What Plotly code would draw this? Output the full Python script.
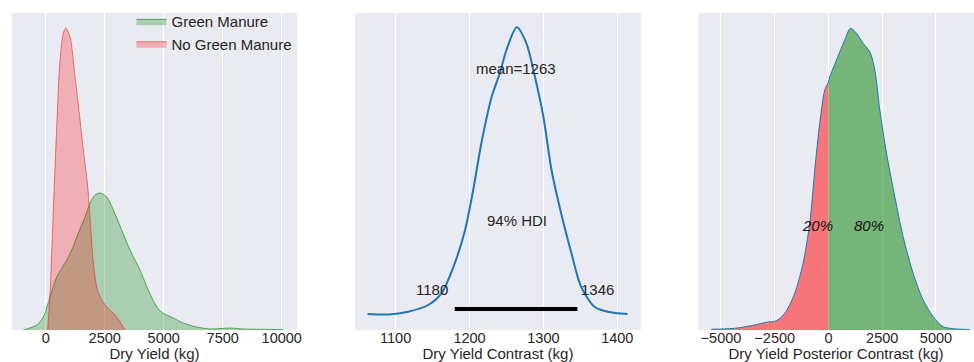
import plotly.graph_objects as go

# ---------- Panel 1: Dry yield KDEs ----------
green_x = [-949, -381, -102, 182, 466, 818, 1102, 1381, 1665, 1877, 2089, 2301, 2585,
           2864, 3220, 3572, 3996, 4419, 4843, 5406, 5830, 6398, 6961, 7808, 8360, 10054]
green_y = [0, 5, 13, 33, 53, 67, 80, 97, 113, 127, 135, 137, 133,
           120, 100, 80, 60, 36, 19, 12, 7, 3, 1, 2, 1, 0.5]
red_x = [85, 182, 322, 466, 606, 746, 847, 1030, 1242, 1453, 1593, 1763, 1877,
         2017, 2229, 2585, 2937, 3148, 3360]
red_y = [0, 37, 120, 203, 270, 297, 302, 293, 253, 210, 180, 147, 113,
         67, 37, 23, 15, 8, 0]
p1_ticks = [0, 2500, 5000, 7500, 10000]

# ---------- Panel 2: contrast posterior ----------
contrast_x = [1062, 1090, 1117, 1144, 1162, 1180, 1194, 1205, 1216, 1230, 1241, 1250,
              1264, 1277, 1288, 1300, 1311, 1324, 1338, 1351, 1369, 1387, 1414]
contrast_y = [1, 0.5, 3.3, 10, 21.7, 51.7, 85, 125, 171.7, 218.3, 241.7, 265,
              287.7, 271.7, 240, 198.3, 145, 101.7, 61.7, 28.3, 8.3, 3.3, 1]
contrast_mean = 1263
hdi_low, hdi_high = 1180, 1346
p2_ticks = [1100, 1200, 1300, 1400]

# ---------- Panel 3: posterior contrast ----------
post_x = [-5446, -4362, -3431, -2886, -2421, -2034, -1569, -1182, -870, -638, -405, -172,
          0, 61, 372, 759, 1024, 1303, 1611, 1923, 2155, 2388, 2700, 3086, 3473, 3938,
          4404, 4869, 5335, 5958, 6577]
post_y = [0.7, 1.7, 5, 7.7, 9.3, 16.7, 36.7, 66.7, 106.7, 160, 206.7, 240,
          248, 253, 270, 290, 301.7, 296.7, 286.7, 278.3, 260, 220, 176.7, 133.3, 93.3, 56.7,
          30, 13.3, 3.3, 1, 0.5]
pct_below, pct_above = "20%", "80%"
p3_ticks = [-5000, -2500, 0, 2500, 5000]

FONT = "Liberation Sans, Arial, sans-serif"
TXT = "#262626"
BG = "#EAEAF2"
BLUE = "#1f77b4"

fig = go.Figure()

# Panel 1
fig.add_trace(go.Scatter(x=green_x, y=green_y, mode="lines", fill="tozeroy",
                         line=dict(color="rgba(0,128,0,0.6)", width=1, shape="spline", smoothing=0.8),
                         fillcolor="rgba(0,128,0,0.27)", name="Green Manure",
                         xaxis="x", yaxis="y"))
fig.add_trace(go.Scatter(x=red_x, y=red_y, mode="lines", fill="tozeroy",
                         line=dict(color="rgba(230,40,40,0.6)", width=1, shape="spline", smoothing=0.8),
                         fillcolor="rgba(255,0,0,0.25)", name="No Green Manure",
                         xaxis="x", yaxis="y"))

# Panel 2
fig.add_trace(go.Scatter(x=contrast_x, y=contrast_y, mode="lines",
                         line=dict(color=BLUE, width=2, shape="spline", smoothing=0.8),
                         showlegend=False, xaxis="x2", yaxis="y2"))
fig.add_trace(go.Scatter(x=[hdi_low, hdi_high], y=[6, 6], mode="lines",
                         line=dict(color="black", width=4),
                         showlegend=False, xaxis="x2", yaxis="y2"))

# Panel 3
split = post_x.index(0)
fig.add_trace(go.Scatter(x=post_x[:split + 1], y=post_y[:split + 1], mode="lines", fill="tozeroy",
                         line=dict(width=0, shape="spline", smoothing=0.8),
                         fillcolor="rgba(255,0,0,0.5)", showlegend=False,
                         xaxis="x3", yaxis="y3"))
fig.add_trace(go.Scatter(x=post_x[split:], y=post_y[split:], mode="lines", fill="tozeroy",
                         line=dict(width=0, shape="spline", smoothing=0.8),
                         fillcolor="rgba(0,128,0,0.5)", showlegend=False,
                         xaxis="x3", yaxis="y3"))
fig.add_trace(go.Scatter(x=post_x, y=post_y, mode="lines",
                         line=dict(color=BLUE, width=1, shape="spline", smoothing=0.8),
                         showlegend=False, xaxis="x3", yaxis="y3"))

annots = [
    dict(x=contrast_mean, y=247, xref="x2", yref="y2", text=f"mean={contrast_mean}",
         showarrow=False, font=dict(size=15, color=TXT, family=FONT)),
    dict(x=1264, y=95, xref="x2", yref="y2", text="94% HDI",
         showarrow=False, font=dict(size=15, color=TXT, family=FONT)),
    dict(x=hdi_low - 6, y=26, xref="x2", yref="y2", text=str(hdi_low), xanchor="right",
         showarrow=False, font=dict(size=15, color=TXT, family=FONT)),
    dict(x=hdi_high + 2, y=26, xref="x2", yref="y2", text=str(hdi_high), xanchor="left",
         showarrow=False, font=dict(size=15, color=TXT, family=FONT)),
    dict(x=-510, y=105, xref="x3", yref="y3", text=f"<i>{pct_below}</i>",
         showarrow=False, font=dict(size=15, color="#111111", family=FONT)),
    dict(x=1876, y=105, xref="x3", yref="y3", text=f"<i>{pct_above}</i>",
         showarrow=False, font=dict(size=15, color="#111111", family=FONT)),
]

def xax(domain, rng, ticks, title):
    return dict(domain=domain, range=rng, tickvals=ticks,
                ticktext=[str(t).replace("-", "\u2212") for t in ticks],
                showgrid=True, gridcolor="white", gridwidth=1, zeroline=False,
                showline=False, ticks="", ticklabelstandoff=-3, automargin=False,
                tickfont=dict(size=14.5, color=TXT, family=FONT),
                title=dict(text=title, font=dict(size=15, color=TXT, family=FONT), standoff=0),
                fixedrange=True)

def yax(anchor, rng):
    return dict(anchor=anchor, range=rng, showgrid=False, zeroline=False, automargin=False,
                showticklabels=False, ticks="", showline=False, fixedrange=True)

fig.update_layout(
    width=974, height=362,
    margin=dict(l=0, r=0, t=13, b=32, autoexpand=False),
    paper_bgcolor="white", plot_bgcolor=BG,
    font=dict(family=FONT, color=TXT),
    xaxis=xax([0.0123, 0.305], [-1430, 10650], p1_ticks, "Dry Yield (kg)"),
    xaxis2=xax([0.3645, 0.658], [1045, 1432], p2_ticks, "Dry Yield Contrast (kg)"),
    xaxis3=xax([0.7166, 1.0], [-6070, 6770], p3_ticks, "Dry Yield Posterior Contrast (kg)"),
    yaxis=yax("x", [0, 317]),
    yaxis2=yax("x2", [-15, 302]),
    yaxis3=yax("x3", [0, 317]),
    annotations=annots,
    showlegend=True,
    legend=dict(x=0.135, y=1.025, xanchor="left", yanchor="top", bgcolor="rgba(0,0,0,0)",
                font=dict(size=15, color=TXT, family=FONT), tracegroupgap=0),
)

fig.write_html(
    "out.html",
    config={"displayModeBar": False, "responsive": False},
    post_script=(
        "document.documentElement.style.margin='0px';"
        "document.documentElement.style.overflow='hidden';"
        "document.body.style.margin='0px';"
        "document.body.style.overflow='hidden';"
    ),
)
